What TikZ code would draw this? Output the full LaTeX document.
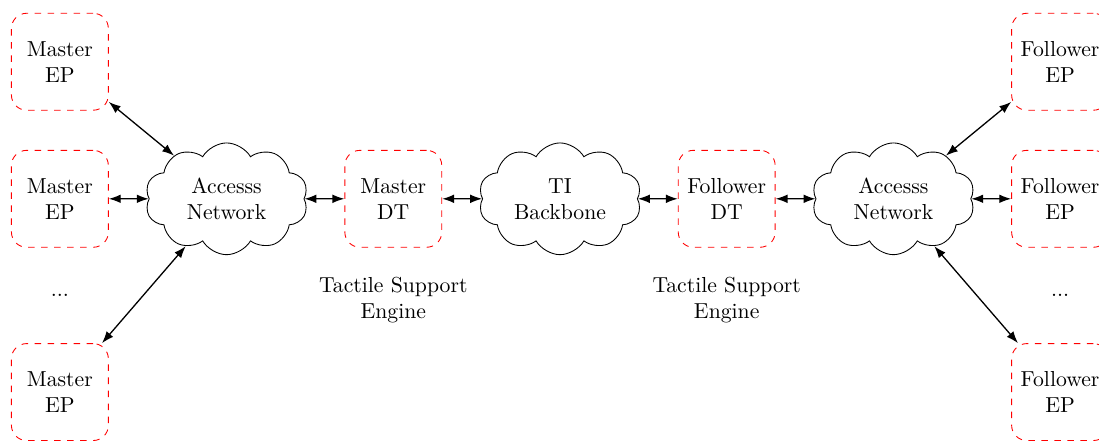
\documentclass[tikz,border=0pt]{standalone}
\usepackage{tikz}
\usetikzlibrary{arrows,arrows.meta,shapes.symbols,positioning}

\begin{document}
\begin{tikzpicture}[
	epbox/.style={draw=red,dashed,rounded corners=7pt,minimum width=1.57cm,minimum height=1.57cm,align=center},
	netcloud/.style={draw,cloud,cloud puffs=10,cloud puff arc=120,aspect=1.6,minimum width=2.64cm,minimum height=1.81cm,align=center,inner sep=0pt},
	link/.style={{Latex[length=5.5pt,width=4pt]}-{Latex[length=5.5pt,width=4pt]},semithick}]
	\useasboundingbox (-0.97,3.22) rectangle (16.83,-3.94);
	\node at (0,2.22) (mep1) [epbox] {Master\\EP};
	\node at (0,0) (mep2) [epbox] {Master\\EP};
	\node at (0,-1.56) (mdots) {...};
	\node at (0,-3.13) (mep3) [epbox] {Master\\EP};
	\node at (2.7,0) (an1) [netcloud] {Accesss\\Network};
	\node at (5.4,0) (mdt) [epbox] {Master\\DT};
	\node at (5.4,-1.64) (mtse) [align=center] {Tactile Support\\Engine};
	\node at (8.1,0) (ti) [netcloud] {TI\\Backbone};
	\node at (10.8,0) (fdt) [epbox] {Follower\\DT};
	\node at (10.8,-1.64) (ftse) [align=center] {Tactile Support\\Engine};
	\node at (13.5,0) (an2) [netcloud] {Accesss\\Network};
	\node at (16.2,2.22) (fep1) [epbox] {Follower\\EP};
	\node at (16.2,0) (fep2) [epbox] {Follower\\EP};
	\node at (16.2,-1.56) (fdots) {...};
	\node at (16.2,-3.13) (fep3) [epbox] {Follower\\EP};
	\draw[link] (mep1)--(an1);
	\draw[link] (mep2)--(an1);
	\draw[link] (an1)--(mep3);
	\draw[link] (an1)--(mdt);
	\draw[link] (mdt)--(ti);
	\draw[link] (ti)--(fdt);
	\draw[link] (fdt)--(an2);
	\draw[link] (an2)--(fep1);
	\draw[link] (an2)--(fep2);
	\draw[link] (an2)--(fep3);
\end{tikzpicture}
\end{document}
